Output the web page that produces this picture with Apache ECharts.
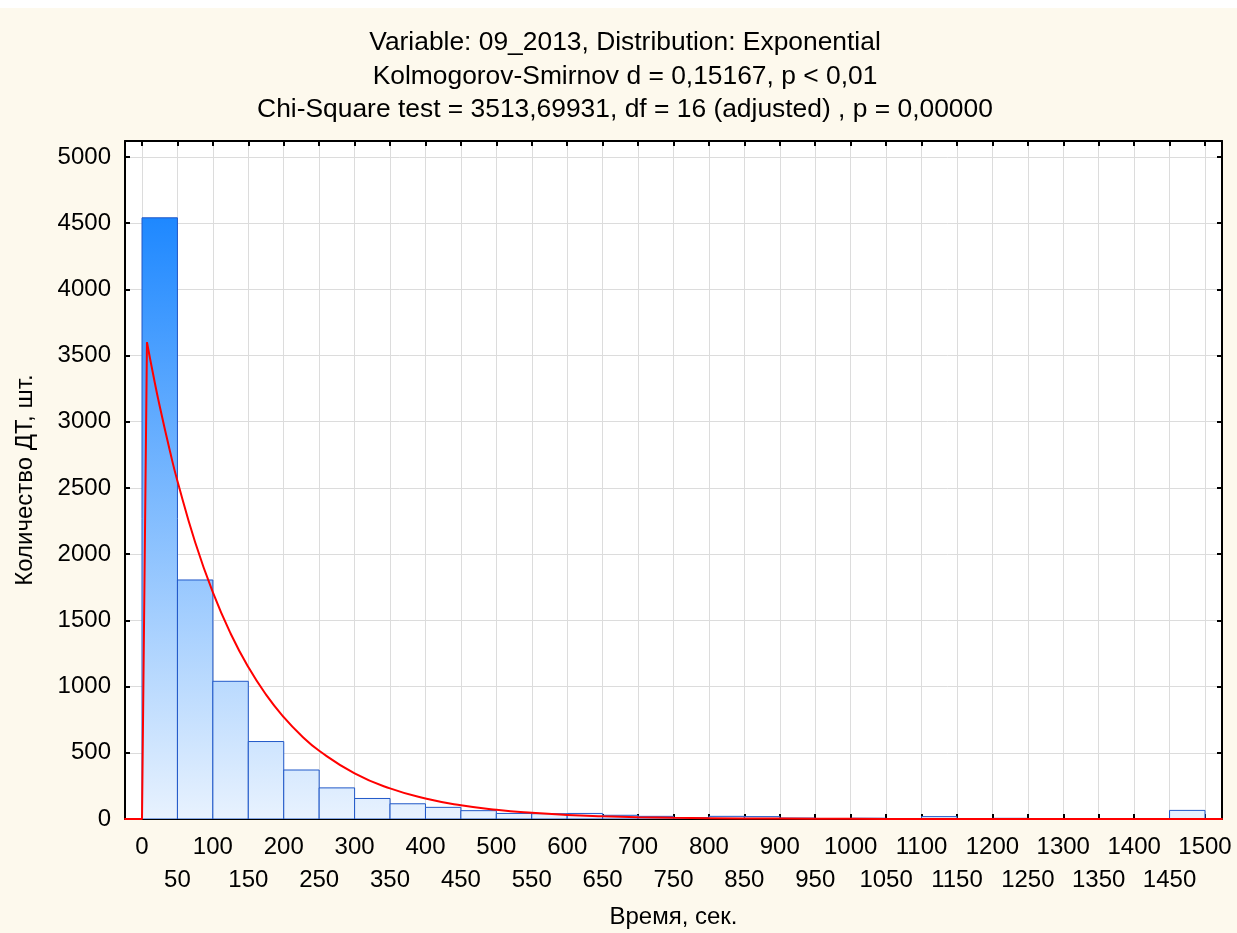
<!DOCTYPE html>
<html>
<head>
<meta charset="utf-8">
<script src="https://cdn.jsdelivr.net/npm/echarts@6/dist/echarts.min.js"></script>
<style>
  html, body { margin: 0; padding: 0; background: #fdf9ed; }
  #chart { width: 1237px; height: 933px; }
</style>
</head>
<body>
<div id="chart"></div>
<script>
// Histogram bins (seconds) and observed counts per bin
const binWidth = 50;
const binStarts = [0, 50, 100, 150, 200, 250, 300, 350, 400, 450, 500, 550, 600, 650, 700,
                   750, 800, 850, 900, 950, 1000, 1050, 1100, 1150, 1200, 1250, 1300, 1350, 1400, 1450];
const counts = [4540, 1805, 1040, 585, 370, 235, 155, 115, 88, 63, 42, 40, 42, 28, 20,
                10, 20, 18, 7, 4, 6, 3, 18, 3, 5, 2, 2, 2, 2, 65];

// Fitted exponential expected-frequency curve: the jump at zero, then the decay
const spikeX = [-25, 0, 7];
const spikeY = [0, 0, 3600];
const decayX = [7, 15, 25, 40, 50, 75, 100, 125, 150, 175, 200, 225, 250, 300, 350,
                400, 450, 500, 550, 600, 650, 700, 750, 800, 900, 1000, 1100, 1200, 1525];
const decayY = [3600, 3377, 3117, 2765, 2552, 2090, 1711, 1401, 1147, 939, 769, 629, 515, 345, 231,
                155, 104, 70, 47, 31, 21, 14, 9, 6, 3, 1, 0.5, 0, 0];

// Tick labels: hundreds on the first row, the odd fifties on the second
const xTicks = [0, 50, 100, 150, 200, 250, 300, 350, 400, 450, 500, 550, 600, 650, 700, 750,
                800, 850, 900, 950, 1000, 1050, 1100, 1150, 1200, 1250, 1300, 1350, 1400, 1450, 1500];
const xLabelsRow1 = [0, 100, 200, 300, 400, 500, 600, 700, 800, 900, 1000, 1100, 1200, 1300, 1400, 1500];
const xLabelsRow2 = [50, 150, 250, 350, 450, 550, 650, 750, 850, 950, 1050, 1150, 1250, 1350, 1450];
const yTicks = [0, 500, 1000, 1500, 2000, 2500, 3000, 3500, 4000, 4500, 5000];

const titleLines = [
  'Variable: 09_2013, Distribution: Exponential',
  'Kolmogorov-Smirnov d = 0,15167, p < 0,01',
  'Chi-Square test = 3513,69931, df = 16 (adjusted) , p = 0,00000'
];
const xName = 'Время, сек.';
const yName = 'Количество ДТ, шт.';

const FONT = '"Liberation Sans", Arial, Helvetica, sans-serif';
const maxCount = Math.max(...counts);
const X_MIN = -24, X_MAX = 1524, Y_MAX = 5120;

const chart = echarts.init(document.getElementById('chart'));

const frameLine = { show: true, onZero: false, lineStyle: { color: '#000', width: 2 } };
const innerTick = values => ({
  show: true, inside: true, length: 5, customValues: values,
  lineStyle: { color: '#000', width: 2 }
});
const labelText = { fontFamily: FONT, fontSize: 24, color: '#000' };

const option = {
  backgroundColor: '#fdf9ed',
  animation: false,
  graphic: [{
    type: 'rect', left: 0, top: 0, z: -10,
    shape: { width: 1237, height: 8 },
    style: { fill: '#ffffff' }
  }],
  title: {
    text: titleLines.join('\n'),
    left: 620, top: 21,
    textAlign: 'center',
    textStyle: { fontFamily: FONT, fontSize: 26.4, fontWeight: 'normal', color: '#000', lineHeight: 33.5 }
  },
  grid: {
    left: 125, right: 15, top: 141, bottom: 114,
    outerBoundsMode: 'none',
    show: true, backgroundColor: '#ffffff', borderWidth: 0
  },
  xAxis: [{
    type: 'value', position: 'bottom', min: X_MIN, max: X_MAX,
    name: xName, nameLocation: 'middle', nameGap: 86,
    nameTextStyle: labelText,
    axisLine: frameLine,
    axisTick: innerTick(xTicks),
    axisLabel: Object.assign({
      customValues: xLabelsRow1, margin: 16,
      showMinLabel: true, showMaxLabel: true,
      formatter: v => String(v)
    }, labelText),
    splitLine: { show: true, lineStyle: { color: '#dcdcdc', width: 1 } }
  }, {
    type: 'value', position: 'top', min: X_MIN, max: X_MAX,
    axisLine: frameLine,
    axisTick: innerTick(xTicks),
    axisLabel: { show: false },
    splitLine: { show: false }
  }, {
    type: 'value', position: 'bottom', offset: 0, min: X_MIN, max: X_MAX,
    axisLine: { show: false, onZero: false },
    axisTick: { show: false },
    axisLabel: Object.assign({
      customValues: xLabelsRow2, margin: 49,
      showMinLabel: true, showMaxLabel: true,
      formatter: v => String(v)
    }, labelText),
    splitLine: { show: false }
  }],
  yAxis: [{
    type: 'value', position: 'left', min: 0, max: Y_MAX,
    name: yName, nameLocation: 'middle', nameGap: 88, nameRotate: 90,
    nameTextStyle: labelText,
    axisLine: frameLine,
    axisTick: innerTick(yTicks),
    axisLabel: Object.assign({
      customValues: yTicks, margin: 14,
      showMinLabel: true, showMaxLabel: true,
      formatter: v => String(v)
    }, labelText),
    splitLine: { show: true, lineStyle: { color: '#dcdcdc', width: 1 } }
  }, {
    type: 'value', position: 'right', min: 0, max: Y_MAX,
    axisLine: frameLine,
    axisTick: innerTick(yTicks),
    axisLabel: { show: false },
    splitLine: { show: false }
  }],
  series: [{
    type: 'custom',
    xAxisIndex: 0, yAxisIndex: 0,
    data: binStarts.map((s, i) => [s, s + binWidth, counts[i]]),
    encode: { x: [0, 1], y: 2 },
    clip: true,
    z: 2,
    renderItem(params, api) {
      const p0 = api.coord([api.value(0), api.value(2)]);
      const p1 = api.coord([api.value(1), 0]);
      const yTop = api.coord([0, maxCount])[1];
      const yBot = api.coord([0, 0])[1];
      return {
        type: 'rect',
        shape: { x: p0[0], y: p0[1], width: p1[0] - p0[0], height: p1[1] - p0[1] },
        style: {
          fill: new echarts.graphic.LinearGradient(0, yTop, 0, yBot, [
            { offset: 0, color: '#1e88ff' },
            { offset: 1, color: '#e8f2fe' }
          ], true),
          stroke: '#2058c8',
          lineWidth: 1
        }
      };
    }
  }, {
    type: 'line',
    xAxisIndex: 0, yAxisIndex: 0,
    data: spikeX.map((x, i) => [x, spikeY[i]]),
    showSymbol: false,
    smooth: false,
    clip: true,
    z: 3,
    lineStyle: { color: '#ff0000', width: 2 }
  }, {
    type: 'line',
    xAxisIndex: 0, yAxisIndex: 0,
    data: decayX.map((x, i) => [x, decayY[i]]),
    showSymbol: false,
    smooth: 0.5,
    clip: true,
    z: 3,
    lineStyle: { color: '#ff0000', width: 2 }
  }]
};

chart.setOption(option);
</script>
</body>
</html>
